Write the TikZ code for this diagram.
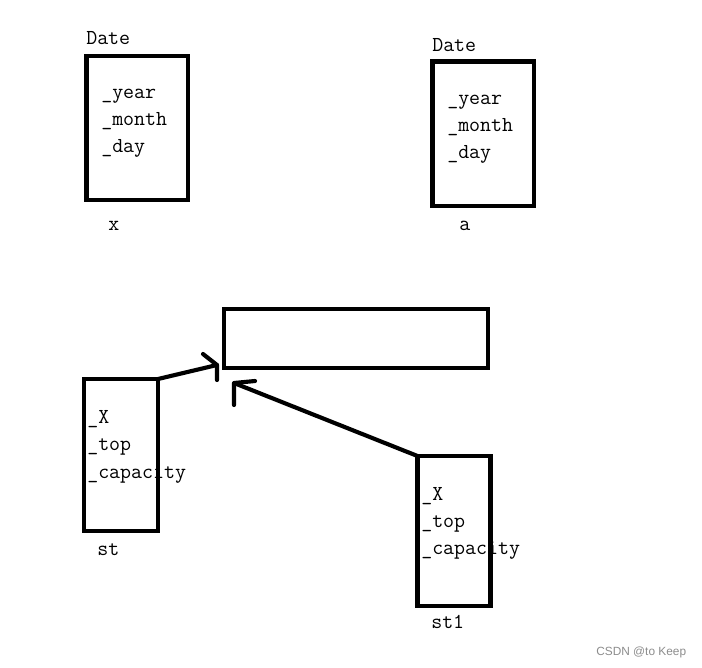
\documentclass[tikz,border=0pt]{standalone}
\usepackage{fontspec}
\newfontfamily\wmfont{Liberation Sans}
\begin{document}
\begin{tikzpicture}[x=0.75pt,y=-0.75pt,
  box/.style={draw,line width=3.7pt,inner sep=0pt,outer sep=0pt},
  lbl/.style={anchor=base west,inner sep=0pt,font=\ttfamily\fontsize{16pt}{18pt}\selectfont},
  conn/.style={line width=3.1pt,line cap=round,line join=round}]
\useasboundingbox (0,0) rectangle (702,667);
% texts (drawn first so that box lines lie on top)
\node[lbl] (dx) at (86,45) {Date};
\node[lbl] (yx) at (101,98) {\_year};
\node[lbl] (mx) at (101,125) {\_month};
\node[lbl] (dyx) at (101,152) {\_day};
\node[lbl] (nx) at (108,230) {x};
\node[lbl] (da) at (432,51) {Date};
\node[lbl] (ya) at (447,104) {\_year};
\node[lbl] (ma) at (447,131) {\_month};
\node[lbl] (dya) at (447,158) {\_day};
\node[lbl] (na) at (459,230) {a};
\node[lbl] (sx) at (87,423) {\_X};
\node[lbl] (stop) at (87,450) {\_top};
\node[lbl] (scap) at (87,478) {\_capacity};
\node[lbl] (sname) at (97,555) {st};
\node[lbl] (s1x) at (421,500) {\_X};
\node[lbl] (s1top) at (421,527) {\_top};
\node[lbl] (s1cap) at (421,554) {\_capacity};
\node[lbl] (s1name) at (431,628) {st1};
% Date boxes
\node[box,minimum width=101.5*0.75pt,minimum height=144*0.75pt] (bx) at (137.25,128) {};
\node[box,minimum width=101.5*0.75pt,minimum height=144.5*0.75pt] (ba) at (483.25,133.75) {};
% wide box
\node[box,minimum width=264*0.75pt,minimum height=59*0.75pt] (arr) at (356,338.5) {};
% st boxes
\node[box,minimum width=74*0.75pt,minimum height=152*0.75pt] (st) at (121,455) {};
\node[box,minimum width=73*0.75pt,minimum height=150*0.75pt] (st1) at (454,531) {};
% arrows
\coordinate (t1) at (217,365);
\coordinate (t1a) at (203,354);
\coordinate (t1b) at (217,380);
\coordinate (t2) at (234,383);
\coordinate (t2a) at (255,381);
\coordinate (t2b) at (234,405);
\draw[conn] (st.north east) -- (t1);
\draw[conn] (t1a) -- (t1) -- (t1b);
\draw[conn] (st1.north west) -- (t2);
\draw[conn] (t2a) -- (t2) -- (t2b);
% watermark
\node[anchor=base west,inner sep=0pt,text=black!45,font=\wmfont\fontsize{8.9pt}{10pt}\selectfont] (wm) at (596,655) {CSDN @to Keep};
\end{tikzpicture}
\end{document}
